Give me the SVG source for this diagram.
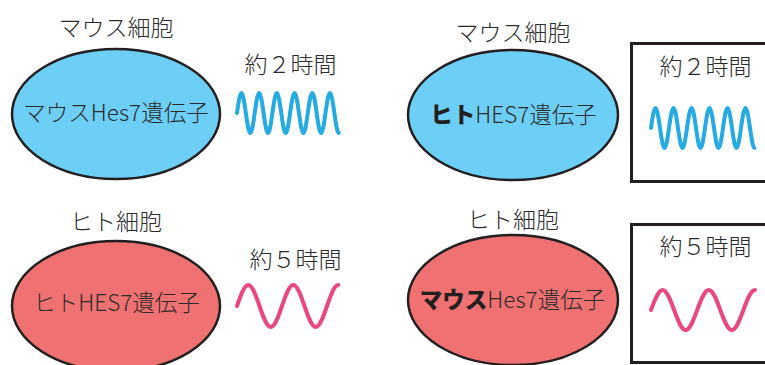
<svg xmlns="http://www.w3.org/2000/svg" width="765" height="365" viewBox="0 0 765 365">
<style>
text{font-family:"Noto Sans CJK JP","Noto Sans",sans-serif;fill:#2b2b2b;text-anchor:middle;font-weight:300}
.lbl{font-size:23px}
.gene{font-size:22.5px}
.time{font-size:23px}
.b{font-weight:900;fill:#231f20}
.cellB{fill:#6dcff6;stroke:#231f20;stroke-width:2.5}
.cellR{fill:#f07171;stroke:#231f20;stroke-width:2.5}
.wB{fill:none;stroke:#25abe2;stroke-width:4;stroke-linecap:round;stroke-linejoin:round}
.wR{fill:none;stroke:#e9477f;stroke-width:4;stroke-linecap:round;stroke-linejoin:round}
.box{fill:#fff;stroke:#231f20;stroke-width:3}
</style>
<rect width="765" height="365" fill="#fff"/>
<g id="mouse-cell-mouse-gene">
<text class="lbl" x="116" y="36">マウス細胞</text>
<ellipse class="cellB" cx="116" cy="114" rx="104" ry="65"/>
<text class="gene" x="116" y="121">マウスHes7遺伝子</text>
<text class="time" x="290.5" y="73">約２時間</text>
<path class="wB" d="M237,113 c1.44,-10.24 2.91,-20 4.43,-20 c3.22,0 5.63,40 8.85,40 s5.63,-40 8.85,-40 s5.63,40 8.85,40 s5.63,-40 8.85,-40 s5.63,40 8.85,40 s5.63,-40 8.85,-40 s5.63,40 8.85,40 s5.63,-40 8.85,-40 s5.63,40 8.85,40 s5.63,-40 8.85,-40 s5.63,40 8.85,40"/>
</g>
<g id="mouse-cell-human-gene">
<text class="lbl" x="513" y="41">マウス細胞</text>
<ellipse class="cellB" cx="513" cy="115" rx="105" ry="65"/>
<text class="gene" x="513.5" y="123"><tspan class="b">ヒト</tspan>HES7遺伝子</text>
<rect class="box" x="631.5" y="43.5" width="145" height="138"/>
<text class="time" x="705.5" y="75">約２時間</text>
<path class="wB" d="M651,128 c1.47,-10.24 2.96,-20 4.5,-20 c3.28,0 5.72,40 9,40 s5.72,-40 9,-40 s5.72,40 9,40 s5.72,-40 9,-40 s5.72,40 9,40 s5.72,-40 9,-40 s5.72,40 9,40 s5.72,-40 9,-40 s5.72,40 9,40 s5.72,-40 9,-40 s5.72,40 9,40"/>
</g>
<g id="human-cell-human-gene">
<text class="lbl" x="116" y="230">ヒト細胞</text>
<ellipse class="cellR" cx="116" cy="306" rx="104" ry="65"/>
<text class="gene" x="116.5" y="311">ヒトHES7遺伝子</text>
<text class="time" x="295.5" y="268">約５時間</text>
<path class="wR" d="M237,306 c3.67,-10.75 7.4,-21 11.25,-21 c8.19,0 14.31,42 22.5,42 s14.31,-42 22.5,-42 s14.31,42 22.5,42 s14.31,-42 22.5,-42"/>
</g>
<g id="human-cell-mouse-gene">
<text class="lbl" x="513" y="228">ヒト細胞</text>
<ellipse class="cellR" cx="513" cy="300" rx="105" ry="65"/>
<text class="gene" x="512.5" y="308"><tspan class="b">マウス</tspan>Hes7遺伝子</text>
<rect class="box" x="631.5" y="224.5" width="145" height="138"/>
<text class="time" x="705.5" y="255">約５時間</text>
<path class="wR" d="M651,310 c3.77,-10.24 7.6,-20 11.55,-20 c8.41,0 14.69,40 23.1,40 s14.69,-40 23.1,-40 s14.69,40 23.1,40 s14.69,-40 23.1,-40"/>
</g>
</svg>
